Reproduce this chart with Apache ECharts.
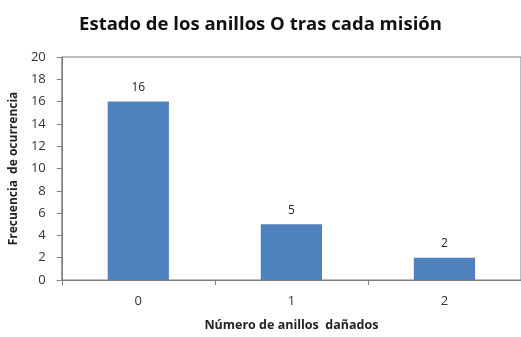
<!DOCTYPE html>
<html><head><meta charset="utf-8">
<script src="https://cdn.jsdelivr.net/npm/echarts@6/dist/echarts.min.js"></script>
<style>html,body{margin:0;padding:0;background:#fff}#c{width:521px;height:337px}</style>
</head><body><div id="c"></div>
<script>
const categories = ['0', '1', '2'];
const values = [16, 5, 2];
const yTicks = [0, 2, 4, 6, 8, 10, 12, 14, 16, 18, 20];
const titleText = 'Estado de los anillos O tras cada misión';
const xName = 'Número de anillos  dañados';
const yName = 'Frecuencia  de ocurrencia';

const chart = echarts.init(document.getElementById('c'));
chart.setOption({
  animation: false,
  backgroundColor: '#fff',
  title: {
    text: titleText, left: 'center', top: 10,
    textStyle: { fontFamily: 'Open Sans', fontWeight: 'bold', fontSize: 18.5, color: '#111' }
  },
  grid: { left: 61, right: -2, top: 57, bottom: 53, show: true, borderColor: '#7f7f7f', borderWidth: 1, backgroundColor: 'transparent' },
  xAxis: {
    type: 'category', data: categories,
    name: xName, nameLocation: 'middle', nameGap: 39,
    nameTextStyle: { fontFamily: 'Open Sans', fontWeight: 'bold', fontSize: 12.5, color: '#222' },
    axisLine: { lineStyle: { color: '#7f7f7f', width: 1 } },
    axisTick: { show: true, alignWithLabel: false, length: 5, lineStyle: { color: '#7f7f7f' } },
    axisLabel: { fontFamily: 'Open Sans', fontSize: 13, color: '#333', margin: 15 }
  },
  yAxis: {
    type: 'value', min: yTicks[0], max: yTicks[yTicks.length - 1], interval: 2,
    name: yName, nameLocation: 'middle', nameGap: 41, nameRotate: 90,
    nameTextStyle: { fontFamily: 'Open Sans', fontWeight: 'bold', fontSize: 12, color: '#222' },
    axisLine: { show: true, lineStyle: { color: '#7f7f7f', width: 1 } },
    axisTick: { show: true, length: 5, lineStyle: { color: '#7f7f7f' } },
    splitLine: { show: false },
    axisLabel: { fontFamily: 'Open Sans', fontSize: 13, color: '#333', margin: 16 }
  },
  series: [{
    type: 'bar', data: values, barWidth: '40%',
    itemStyle: { color: '#4f81bd' },
    label: { show: true, position: 'top', distance: 8, fontFamily: 'Open Sans', fontSize: 12, color: '#222' }
  }]
});
</script></body></html>
